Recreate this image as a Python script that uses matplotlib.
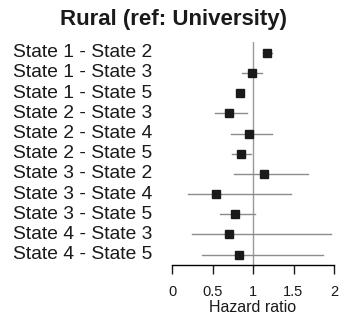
import matplotlib
matplotlib.use("Agg")
import matplotlib.pyplot as plt
import matplotlib.transforms as mtransforms

plt.rcParams['font.family'] = ['Liberation Sans', 'DejaVu Sans']

# comparisons, top to bottom
labels = ['State 1 - State 2', 'State 1 - State 3', 'State 1 - State 5',
          'State 2 - State 3', 'State 2 - State 4', 'State 2 - State 5',
          'State 3 - State 2', 'State 3 - State 4', 'State 3 - State 5',
          'State 4 - State 3', 'State 4 - State 5']
hr = [1.17, 0.99, 0.84, 0.70, 0.95, 0.85, 1.14, 0.54, 0.78, 0.70, 0.83]
lower = [1.12, 0.87, 0.80, 0.53, 0.73, 0.74, 0.77, 0.20, 0.59, 0.25, 0.37]
upper = [1.23, 1.11, 0.87, 0.93, 1.23, 0.98, 1.68, 1.47, 1.03, 1.96, 1.87]
xticks = [0, 0.5, 1, 1.5, 2]
xticklabels = ['0', '0.5', '1', '1.5', '2']

W, H = 343, 319
fig = plt.figure(figsize=(W / 100, H / 100), dpi=100)
ax = fig.add_axes([172 / W, 54 / H, 162 / W, 223 / H])

n = len(labels)
ys = [n - i for i in range(n)]

ax.axvline(1, color='#9a9a9a', lw=1.0, zorder=1)
for y, lo, hi in zip(ys, lower, upper):
    ax.plot([lo, hi], [y, y], color='#8c8c8c', lw=1.0, zorder=2)
ax.plot(hr, ys, ls='none', marker='s', ms=5.2, color='#1a1a1a', zorder=3)

ax.set_xlim(0, 2)
ax.set_ylim(0.49, 11.53)
for s in ['top', 'right', 'left']:
    ax.spines[s].set_visible(False)
ax.spines['bottom'].set_linewidth(1.0)
ax.set_yticks([])
ax.set_xticks(xticks)
ax.set_xticklabels(xticklabels)
ax.tick_params(axis='x', length=6.5, width=1.0, pad=8, labelsize=10.5, colors='#1a1a1a')

trans = mtransforms.blended_transform_factory(fig.transFigure, ax.transData)
for y, lab in zip(ys, labels):
    ax.text(13 / W, y, lab, transform=trans, ha='left', va='center',
            fontsize=13.9, color='#1a1a1a')

fig.text(174 / W, 1 - 19 / H, 'Rural (ref: University)', ha='center', va='center',
         fontsize=16, fontweight='bold', color='#1a1a1a')
fig.text(253 / W, 1 - 307 / H, 'Hazard ratio', ha='center', va='center',
         fontsize=11.5, color='#1a1a1a')

fig.savefig('out.png', dpi=100)
